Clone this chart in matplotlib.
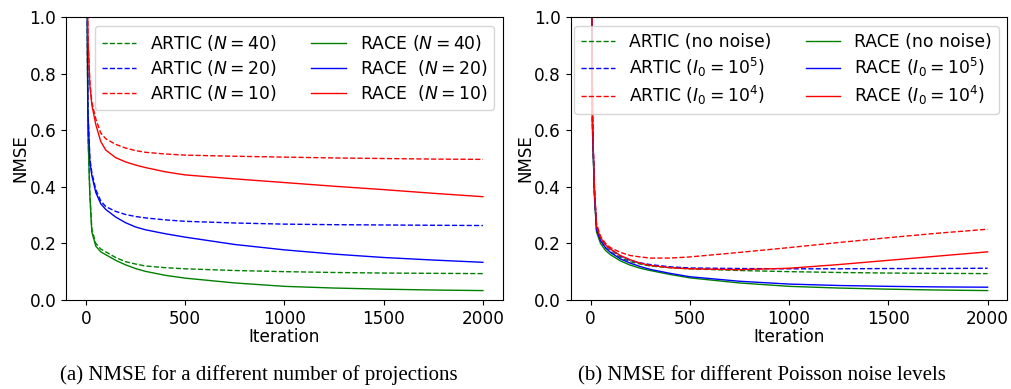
import matplotlib.pyplot as plt
import numpy as np

it = [1, 10, 20, 30, 50, 75, 100, 150, 200, 250, 300, 400, 500, 750, 1000, 1250, 1500, 1750, 2000]

# (a) different number of projections
artic_n40 = [1.8, 0.61, 0.38, 0.25, 0.20, 0.18, 0.17, 0.150, 0.135, 0.127, 0.120, 0.114, 0.110, 0.104, 0.100, 0.097, 0.095, 0.094, 0.093]
artic_n20 = [1.8, 0.68, 0.50, 0.45, 0.39, 0.35, 0.33, 0.313, 0.302, 0.295, 0.290, 0.283, 0.278, 0.272, 0.268, 0.266, 0.265, 0.264, 0.263]
artic_n10 = [1.8, 0.94, 0.77, 0.70, 0.64, 0.59, 0.57, 0.550, 0.537, 0.528, 0.522, 0.516, 0.512, 0.508, 0.505, 0.502, 0.500, 0.498, 0.497]
race_n40 = [1.8, 0.60, 0.37, 0.24, 0.19, 0.17, 0.16, 0.140, 0.124, 0.111, 0.101, 0.087, 0.077, 0.060, 0.048, 0.042, 0.038, 0.035, 0.033]
race_n20 = [1.8, 0.67, 0.49, 0.44, 0.38, 0.34, 0.32, 0.293, 0.273, 0.258, 0.248, 0.234, 0.222, 0.196, 0.177, 0.162, 0.150, 0.141, 0.133]
race_n10 = [1.8, 0.93, 0.76, 0.69, 0.62, 0.56, 0.53, 0.503, 0.488, 0.477, 0.468, 0.453, 0.442, 0.428, 0.415, 0.402, 0.390, 0.377, 0.365]

# (b) different Poisson noise levels
artic_clean = [1.8, 0.60, 0.37, 0.25, 0.21, 0.185, 0.170, 0.150, 0.135, 0.127, 0.120, 0.114, 0.110, 0.104, 0.100, 0.097, 0.095, 0.094, 0.093]
artic_1e5 = [1.8, 0.62, 0.38, 0.26, 0.22, 0.195, 0.178, 0.155, 0.140, 0.131, 0.125, 0.117, 0.113, 0.111, 0.110, 0.110, 0.111, 0.111, 0.112]
artic_1e4 = [1.8, 0.63, 0.39, 0.27, 0.225, 0.20, 0.185, 0.168, 0.157, 0.152, 0.148, 0.148, 0.152, 0.168, 0.185, 0.203, 0.220, 0.236, 0.250]
race_clean = [1.8, 0.59, 0.36, 0.24, 0.20, 0.175, 0.160, 0.138, 0.123, 0.112, 0.104, 0.090, 0.078, 0.060, 0.048, 0.042, 0.038, 0.035, 0.033]
race_1e5 = [1.8, 0.61, 0.37, 0.25, 0.21, 0.185, 0.168, 0.145, 0.130, 0.118, 0.108, 0.094, 0.082, 0.066, 0.056, 0.051, 0.048, 0.046, 0.045]
race_1e4 = [1.8, 0.62, 0.38, 0.26, 0.22, 0.195, 0.180, 0.157, 0.142, 0.130, 0.122, 0.114, 0.110, 0.107, 0.112, 0.125, 0.140, 0.155, 0.170]

fig = plt.figure(figsize=(10.11, 3.89), dpi=100)
ax1 = fig.add_axes([0.0653, 0.229, 0.432, 0.727])
ax2 = fig.add_axes([0.5645, 0.229, 0.432, 0.727])

lw = 1.0
ax1.plot(it, artic_n40, 'g--', lw=lw, label='ARTIC ($N = 40$)')
ax1.plot(it, artic_n20, 'b--', lw=lw, label='ARTIC ($N = 20$)')
ax1.plot(it, artic_n10, 'r--', lw=lw, label='ARTIC ($N = 10$)')
ax1.plot(it, race_n40, 'g-', lw=lw, label='RACE ($N = 40$)')
ax1.plot(it, race_n20, 'b-', lw=lw, label='RACE  ($N = 20$)')
ax1.plot(it, race_n10, 'r-', lw=lw, label='RACE  ($N = 10$)')

ax2.plot(it, artic_clean, 'g--', lw=lw, label='ARTIC (no noise)')
ax2.plot(it, artic_1e5, 'b--', lw=lw, label='ARTIC ($I_0 = 10^5$)')
ax2.plot(it, artic_1e4, 'r--', lw=lw, label='ARTIC ($I_0 = 10^4$)')
ax2.plot(it, race_clean, 'g-', lw=lw, label='RACE (no noise)')
ax2.plot(it, race_1e5, 'b-', lw=lw, label='RACE ($I_0 = 10^5$)')
ax2.plot(it, race_1e4, 'r-', lw=lw, label='RACE ($I_0 = 10^4$)')

for ax in (ax1, ax2):
    ax.set_ylim(0, 1.0)
    ax.set_xlim(-100, 2100)
    ax.set_xticks([0, 500, 1000, 1500, 2000])
    ax.set_yticks(np.arange(0, 1.01, 0.2))
    ax.tick_params(labelsize=12.2)
    ax.set_xlabel('Iteration', fontsize=12.2, labelpad=0)
    ax.set_ylabel('NMSE', fontsize=12, labelpad=0)
    ax.legend(ncol=2, loc='upper right', fontsize=12.4, handlelength=2.0,
              columnspacing=2.0, labelspacing=0.3, borderpad=0.4)

fig.text(0.256, 0.022, '(a) NMSE for a different number of projections',
         family='Liberation Serif', fontsize=15, ha='center')
fig.text(0.754, 0.022, '(b) NMSE for different Poisson noise levels',
         family='Liberation Serif', fontsize=15, ha='center')

fig.savefig('out.png', dpi=100)
